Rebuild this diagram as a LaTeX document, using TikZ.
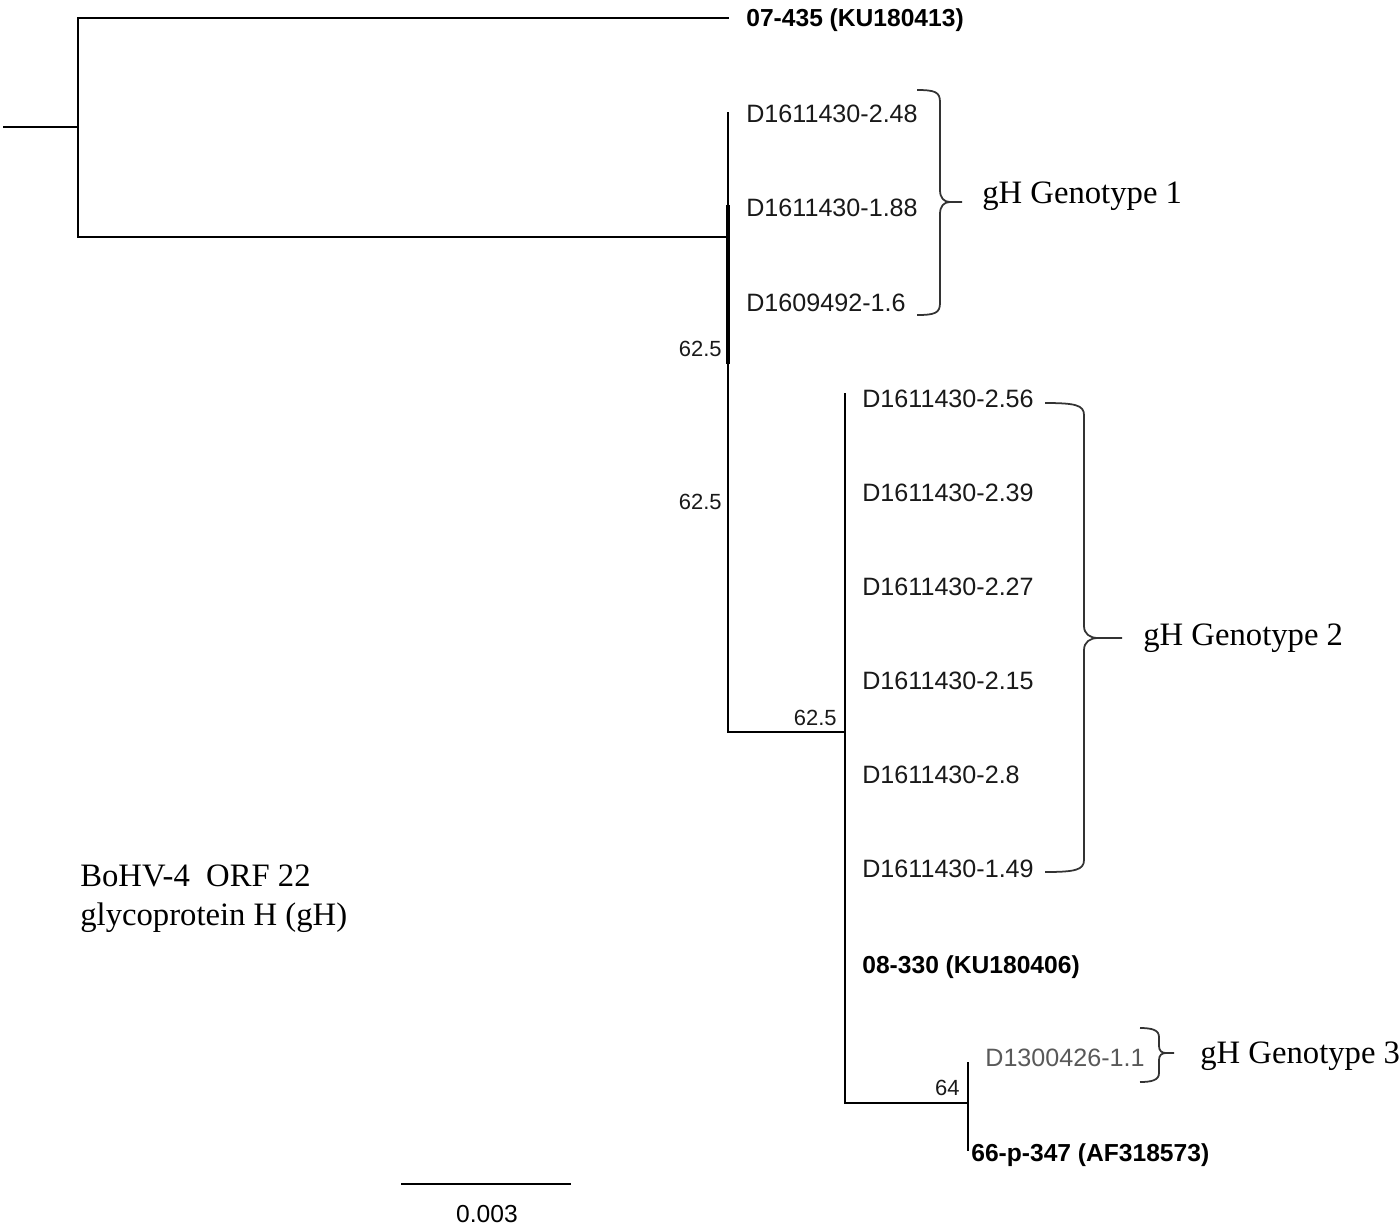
\documentclass[tikz,border=0pt]{standalone}
\usepackage{fontspec}
\setmainfont{Liberation Serif}
\setsansfont{Liberation Sans}
\usetikzlibrary{positioning}

\tikzset{
  branch/.style={line width=1.5pt,line cap=rect},
  leaf/.style={anchor=base west,inner sep=0pt,text=black!90,font=\sffamily\fontsize{14.3}{16}\selectfont},
  ref/.style={leaf,text=black,font=\sffamily\bfseries\fontsize{14}{16}\selectfont},
  boot/.style={anchor=east,inner sep=0pt,text=black!90,font=\sffamily\fontsize{12.5}{14}\selectfont},
  geno/.style={anchor=west,inner sep=0pt,font=\fontsize{18.6}{20}\selectfont},
  gbrace/.style={line width=1pt,black!80}
}

\begin{document}
\begin{tikzpicture}[x=0.02cm,y=-0.02cm]
\useasboundingbox (0,0) rectangle (1400,1225);

% The inner nodes
\coordinate (root) at (4,127);
\coordinate (n0) at (78,127);
\coordinate (t07) at (728,18);
\coordinate (n1) at (728,237);
\coordinate (n1top) at (728,113);
\coordinate (n2a) at (728,207);
\coordinate (n2) at (728,362);
\coordinate (n3s) at (728,732);
\coordinate (n3) at (845,732);
\coordinate (n3top) at (845,394);
\coordinate (n4s) at (845,1103);
\coordinate (n4) at (968,1103);
\coordinate (n4top) at (968,1063);
\coordinate (n4bot) at (968,1150);

% The branches
\draw[branch] (root) -- (n0);
\draw[branch] (t07) -| (n0) |- (n1);
\draw[branch] (n1top) -- (n3s) -- (n3);
\draw[branch,line width=2.6pt] (n2a) -- (n2);
\draw[branch] (n3top) -- (n4s) -- (n4);
\draw[branch] (n4top) -- (n4bot);

% The taxa
\node[ref] (l07) at (746,26) {07-435 (KU180413)};
\foreach \lab/\yy [count=\i] in {D1611430-2.48/113,D1611430-1.88/207,D1609492-1.6/302}
  \node[leaf] (g1\i) at (746,\yy+9) {\lab};
\foreach \lab/\yy [count=\i] in {D1611430-2.56/398,D1611430-2.39/492,D1611430-2.27/586,D1611430-2.15/680,D1611430-2.8/774,D1611430-1.49/868}
  \node[leaf] (g2\i) at (862,\yy+9) {\lab};
\node[ref] (l08) at (862,973) {08-330 (KU180406)};
\node[leaf,text=black!65] (g31) at (985,1066) {D1300426-1.1};
\node[ref] (l66) at (971,1161) {66-p-347 (AF318573)};

% The support values
\node[boot] (b1) at (722,349) {62.5};
\node[boot] (b2) at (722,502) {62.5};
\node[boot] (b3) at (837,718) {62.5};
\node[boot] (b4) at (960,1088) {64};

% The genotype braces
\draw[gbrace] (917,90) .. controls (935,90) and (940,92) .. (940,102) -- (940,190)
  .. controls (940,198) and (944,202) .. (950,202) -- (962,202);
\draw[gbrace] (917,315) .. controls (935,315) and (940,313) .. (940,303) -- (940,214)
  .. controls (940,206) and (944,202) .. (950,202);
\node[geno] (gt1) at (982,196) {gH Genotype 1};

\draw[gbrace] (1045,403) .. controls (1075,403) and (1084,405) .. (1084,415) -- (1084,626)
  .. controls (1084,634) and (1090,638) .. (1098,638) -- (1122,638);
\draw[gbrace] (1045,872) .. controls (1075,872) and (1084,870) .. (1084,860) -- (1084,650)
  .. controls (1084,642) and (1090,638) .. (1098,638);
\node[geno] (gt2) at (1143,638) {gH Genotype 2};

\draw[gbrace] (1140,1028) .. controls (1152,1028) and (1159,1030) .. (1159,1037) -- (1159,1046)
  .. controls (1159,1051) and (1162,1053) .. (1166,1053) -- (1174,1053);
\draw[gbrace] (1140,1082) .. controls (1152,1082) and (1159,1080) .. (1159,1073) -- (1159,1060)
  .. controls (1159,1055) and (1162,1053) .. (1166,1053);
\node[geno] (gt3) at (1200,1056) {gH Genotype 3};

% Title and scale bar
\node[anchor=north west,inner sep=0pt,align=left,font=\fontsize{18.6}{22.5}\selectfont] (title) at (80,864)
  {BoHV-4~ ORF 22\\glycoprotein H (gH)};
\coordinate (sa) at (402,1184);
\coordinate (sb) at (570,1184);
\draw[branch] (sa) -- (sb);
\node[anchor=center,inner sep=0pt,font=\sffamily\fontsize{14}{16}\selectfont] (scale) at (487,1214) {0.003};
\end{tikzpicture}
\end{document}
